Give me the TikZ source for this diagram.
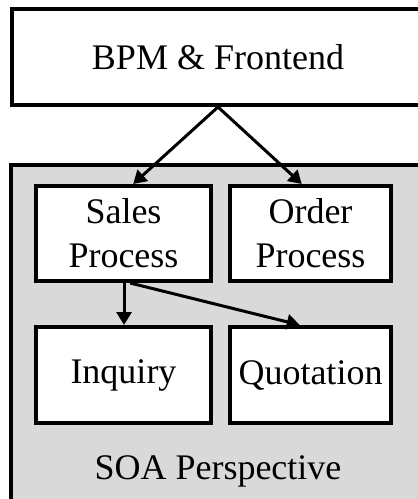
\documentclass[tikz,border=0pt]{standalone}
\usepackage{fontspec}
\setmainfont{Liberation Serif}
\usetikzlibrary{arrows.meta,calc}
\definecolor{soagrey}{RGB}{217,217,217}
\tikzset{
  box/.style={draw=black, line width=4pt, fill=white, rectangle, inner sep=0pt,
    align=center, font=\fontsize{36}{44}\selectfont},
  conn/.style={line width=3pt, -{Triangle[length=13pt,width=15pt]}},
}
\begin{document}
\begin{tikzpicture}[x=1pt,y=-1pt]
\useasboundingbox (0,0) rectangle (418,499);
\clip (0,0) rectangle (418,499);
\fill[white] (0,0) rectangle (418,499);
\node[box, minimum width=413pt, minimum height=96pt] (top) at (218,57) {BPM \& Frontend};
\node[box, fill=soagrey, minimum width=413pt, minimum height=338pt] (soa) at (217.5,334) {};
\node[box, minimum width=175pt, minimum height=95pt] (sales) at (123.5,233.5) {Sales\\Process};
\node[box, minimum width=161pt, minimum height=95pt] (order) at (310.5,233.5) {Order\\Process};
\node[box, minimum width=175pt, minimum height=96pt] (inquiry) at (123.5,375) {Inquiry};
\node[box, minimum width=161pt, minimum height=96pt] (quot) at (310.5,375) {Quotation};
\node[font=\fontsize{36}{44}\selectfont] (soalabel) at (218,471) {SOA Perspective};
\draw[conn] (top.south) -- ($(sales.north west)!0.554!(sales.north east)$);
\draw[conn] (top.south) -- ($(order.north west)!0.447!(order.north east)$);
\draw[conn] ($(sales.south west)!0.503!(sales.south east)$) -- ($(inquiry.north west)!0.503!(inquiry.north east)$);
\draw[conn] ($(sales.south west)!0.537!(sales.south east)$) -- ($(quot.north west)!0.435!(quot.north east)$);
\end{tikzpicture}
\end{document}
